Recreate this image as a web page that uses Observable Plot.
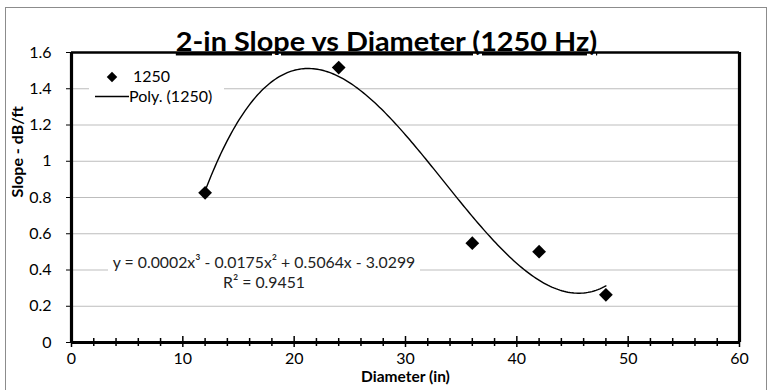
<!DOCTYPE html>
<html>
<head>
<meta charset="utf-8">
<script src="https://cdn.jsdelivr.net/npm/d3@7"></script>
<script src="https://cdn.jsdelivr.net/npm/@observablehq/plot@0.6"></script>
<style>
  body { margin: 0; background: #fff; }
  #wrap { position: relative; width: 772px; height: 390px; overflow: hidden; font-family: Lato, "Open Sans", sans-serif; background: #fff; }
  #border { position: absolute; left: 5px; top: 7px; width: 762px; height: 400px; border: 1px solid #8c8c8c; box-sizing: border-box; pointer-events: none; }
  #legend { position: absolute; left: 89px; top: 64px; width: 135px; height: 42px; background: #fff; }
  #legend svg { position: absolute; left: 0; top: 0; }
  #legend .lbl { position: absolute; font-size: 16px; line-height: 18px; color: #000; white-space: nowrap; }
  #equation { position: absolute; left: 108px; top: 252px; width: 312px; background: #fff; text-align: center; font-size: 15.8px; line-height: 20px; color: #222; white-space: nowrap; }
</style>
</head>
<body>
<div id="wrap">
  <div id="chart"></div>
  <div id="legend"></div>
  <div id="equation"></div>
  <div id="border"></div>
</div>
<script>
// ---- data ----
const diameters = [12, 24, 36, 42, 48];
const slopes = [0.826, 1.517, 0.548, 0.501, 0.263];
const seriesName = "1250";
const trendName = "Poly. (1250)";
const xTicks = [0, 10, 20, 30, 40, 50, 60];
const xTickLabels = ["0", "10", "20", "30", "40", "50", "60"];
const xMinorTicks = [2, 4, 6, 8, 12, 14, 16, 18, 22, 24, 26, 28, 32, 34, 36, 38, 42, 44, 46, 48, 52, 54, 56, 58];
const yTicks = [0, 0.2, 0.4, 0.6, 0.8, 1, 1.2, 1.4, 1.6];
const yTickLabels = ["0", "0.2", "0.4", "0.6", "0.8", "1", "1.2", "1.4", "1.6"];
const gridValues = [0.2, 0.4, 0.6, 0.8, 1, 1.2, 1.4];
const titleText = "2-in Slope vs Diameter (1250 Hz)";
const xLabel = "Diameter (in)";
const yLabel = "Slope - dB/ft";
const equationLine1 = "y = 0.0002x³ - 0.0175x² + 0.5064x - 3.0299";
const equationLine2 = "R² = 0.9451";

// ---- cubic least-squares trendline (as Excel's polynomial trendline) ----
function polyfit(xs, ys, deg) {
  const n = deg + 1;
  const A = Array.from({length: n}, () => new Array(n + 1).fill(0));
  for (let k = 0; k < xs.length; k++) {
    for (let i = 0; i < n; i++) {
      for (let j = 0; j < n; j++) A[i][j] += Math.pow(xs[k], i + j);
      A[i][n] += ys[k] * Math.pow(xs[k], i);
    }
  }
  for (let c = 0; c < n; c++) {
    let p = c;
    for (let r = c + 1; r < n; r++) if (Math.abs(A[r][c]) > Math.abs(A[p][c])) p = r;
    [A[c], A[p]] = [A[p], A[c]];
    for (let r = 0; r < n; r++) {
      if (r === c) continue;
      const f = A[r][c] / A[c][c];
      for (let j = c; j <= n; j++) A[r][j] -= f * A[c][j];
    }
  }
  return A.map((row, i) => row[n] / row[i]);
}
const coef = polyfit(diameters, slopes, 3);
const evalPoly = (x) => coef.reduce((s, c, i) => s + c * Math.pow(x, i), 0);
const xmin = d3.min(diameters), xmax = d3.max(diameters);
const trend = d3.range(0, 201).map(i => {
  const x = xmin + (xmax - xmin) * i / 200;
  return {x, y: evalPoly(x)};
});
const points = diameters.map((d, i) => ({x: d, y: slopes[i]}));

const plot = Plot.plot({
  width: 772,
  height: 390,
  marginLeft: 71,
  marginRight: 33,
  marginTop: 52,
  marginBottom: 48,
  style: {fontFamily: "Lato, 'Open Sans', sans-serif", fontSize: "16px", color: "#000", background: "transparent"},
  x: {domain: [0, 60]},
  y: {domain: [0, 1.6]},
  marks: [
    Plot.ruleY(gridValues, {stroke: "#bdbdbd", strokeWidth: 1}),
    Plot.axisY({ticks: yTicks, tickFormat: d => yTickLabels[yTicks.indexOf(d)], tickSize: 5, tickPadding: 15, label: null, fontSize: 16, stroke: "#000"}),
    Plot.axisX({ticks: xTicks, tickFormat: d => xTickLabels[xTicks.indexOf(d)], tickSize: 0, tickPadding: 10, label: null, fontSize: 16}),
    Plot.ruleX(xMinorTicks, {y1: 0, y2: 0, insetTop: -4, insetBottom: -4, strokeWidth: 1.5, stroke: "#000"}),
    Plot.ruleX(xTicks, {y1: 0, y2: 0, insetTop: -6, insetBottom: -5, strokeWidth: 1.5, stroke: "#000"}),
    Plot.ruleX([0], {strokeWidth: 3.2, stroke: "#000"}),
    Plot.ruleX([60], {strokeWidth: 3.2, stroke: "#000"}),
    Plot.ruleY([0], {strokeWidth: 3.2, stroke: "#000"}),
    Plot.ruleY([1.6], {strokeWidth: 2.4, stroke: "#000"}),
    Plot.line(trend, {x: "x", y: "y", stroke: "#000", strokeWidth: 1.4, curve: "linear"}),
    Plot.dot(points, {x: "x", y: "y", symbol: "diamond2", r: 6.2, fill: "#000", stroke: null}),
    Plot.text([titleText], {text: d => d, frameAnchor: "top", dx: -19, dy: -20, fontSize: 26, fontWeight: "bold", fill: "#000"}),
    Plot.text([xLabel], {text: d => d, frameAnchor: "bottom", dy: 39, fontSize: 15.5, fontWeight: "bold", fill: "#000"}),
    Plot.text([yLabel], {text: d => d, frameAnchor: "left", dx: -54, rotate: -90, fontSize: 16, fontWeight: "bold", fill: "#000"})
  ]
});
// Title: underlined and widened to the reference's width (Calibri-like proportions)
d3.select(plot).selectAll("text").filter(function() { return this.textContent === titleText; })
  .style("text-decoration", "underline")
  .each(function() {
    const t = this.getAttribute("transform") || "";
    this.setAttribute("transform", (t + " scale(1.11,1)").trim());
  });
document.getElementById("chart").appendChild(plot);

// legend (white box over gridline, as in the reference)
const legend = d3.select("#legend");
const lsvg = legend.append("svg").attr("width", 135).attr("height", 42);
lsvg.append("path").attr("d", d3.symbol(d3.symbolDiamond2, 70)()).attr("transform", "translate(23,13)").attr("fill", "#000");
lsvg.append("line").attr("x1", 6).attr("x2", 40).attr("y1", 32.5).attr("y2", 32.5).attr("stroke", "#000").attr("stroke-width", 1.4);
legend.append("div").attr("class", "lbl").style("left", "44px").style("top", "3px").text(seriesName);
legend.append("div").attr("class", "lbl").style("left", "40px").style("top", "23px").text(trendName);

// trendline equation label
const eq = d3.select("#equation");
eq.append("div").text(equationLine1);
eq.append("div").text(equationLine2);
</script>
</body>
</html>
